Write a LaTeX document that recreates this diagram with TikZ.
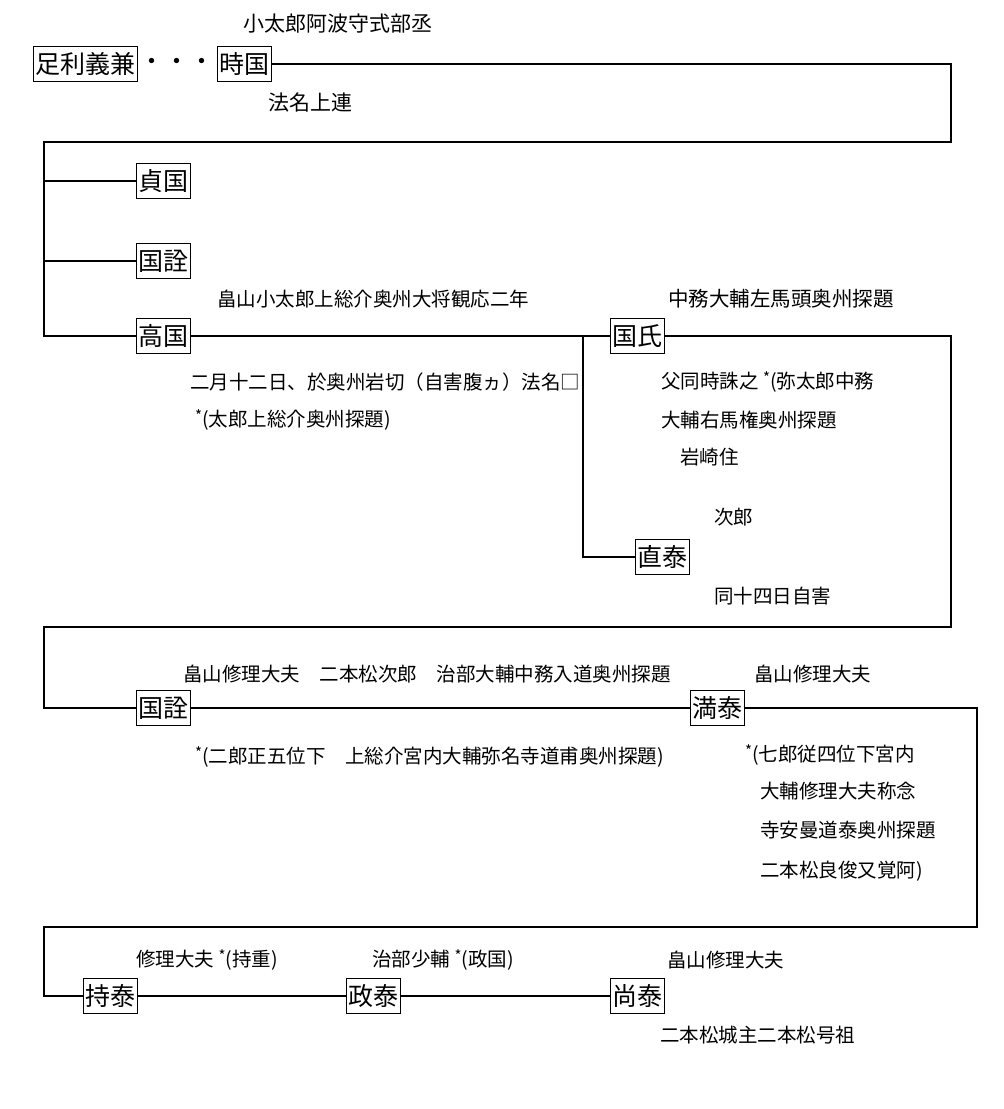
\documentclass[tikz,border=0pt]{standalone}
\usepackage{fontspec}
\setmainfont{Noto Sans CJK JP}
\newcommand{\stx}{\raisebox{0.3em}{\fontsize{15}{15}\selectfont *}}
\begin{document}
\begin{tikzpicture}[x=1pt,y=-1pt,
 box/.style={draw, line width=0.9pt, inner xsep=2pt, inner ysep=0pt, minimum height=35pt, font=\fontsize{25}{25}\selectfont},
 lbl/.style={anchor=west, inner sep=0pt, font=\fontsize{19.5}{20}\selectfont},
 lblb/.style={lbl, font=\fontsize{21}{22}\selectfont},
 conn/.style={line width=2.8pt}]
\fill[white] (0,0) rectangle (1004,1109);
\useasboundingbox (0,0) rectangle (1004,1109);

\node[lblb] (t1) at (243,24) {小太郎阿波守式部丞};
\node[box] (yoshikane) at (85,63.5) {足利義兼};
\node[font=\fontsize{25}{25}\selectfont, inner sep=0pt] (dots) at (177,64) {・・・};
\node[box] (tokikuni) at (244,64) {時国};
\node[lblb] (t2) at (268,103) {法名上連};
\node[box] (sadakuni) at (163,181) {貞国};
\node[box] (kuniakira1) at (163,261) {国詮};
\node[lbl] (t3) at (217,299) {畠山小太郎上総介奥州大将観応二年};
\node[box] (takakuni) at (163,336) {高国};
\node[lbl] (t4) at (190,382) {二月十二日、於奥州岩切（自害腹ヵ）法名□};
\node[lbl] (t5) at (195,420) {\stx(太郎上総介奥州探題)};
\node[lbl, font=\fontsize{20.5}{21}\selectfont] (t6) at (668,299) {中務大輔左馬頭奥州探題};
\node[box] (kuniuji) at (637.5,336) {国氏};
\node[lbl] (t7) at (661,382) {父同時誅之 \stx(弥太郎中務};
\node[lbl] (t8) at (661,420) {大輔右馬権奥州探題};
\node[lbl] (t9) at (680,457) {岩崎住};
\node[lbl] (t10) at (714,517) {次郎};
\node[box] (naoyasu) at (662,557) {直泰};
\node[lbl] (t11) at (714,596) {同十四日自害};
\node[lbl] (t12) at (183,674) {畠山修理大夫　二本松次郎　治部大輔中務入道奥州探題};
\node[box] (kuniakira2) at (163.5,708) {国詮};
\node[lbl] (t13) at (195,757) {\stx(二郎正五位下　上総介宮内大輔弥名寺道甫奥州探題)};
\node[lbl] (t14) at (754,674) {畠山修理大夫};
\node[box] (mitsuyasu) at (717,708) {満泰};
\node[lbl] (t15) at (745,755) {\stx(七郎従四位下宮内};
\node[lbl] (t16) at (760,791) {大輔修理大夫称念};
\node[lbl] (t17) at (760,830) {寺安曼道泰奥州探題};
\node[lbl] (t18) at (760,871) {二本松良俊又覚阿)};
\node[lbl] (t19) at (136,960) {修理大夫 \stx(持重)};
\node[lbl] (t20) at (372,960) {治部少輔 \stx(政国)};
\node[lbl] (t21) at (667,960) {畠山修理大夫};
\node[box] (mochiyasu) at (110.5,996) {持泰};
\node[box] (masayasu) at (373,996) {政泰};
\node[box] (hisayasu) at (637.5,996) {尚泰};
\node[lbl] (t22) at (660,1035) {二本松城主二本松号祖};

\coordinate (c1) at (951,142);
\coordinate (c2) at (44,142);
\coordinate (c3) at (951,627);
\coordinate (c4) at (44,627);
\coordinate (c5) at (977,927);
\coordinate (c6) at (44,927);
\coordinate (j1) at (583,336);

\draw[conn] (tokikuni.east) -| (c1) -- (c2) |- (takakuni.west);
\draw[conn] (c2 |- sadakuni.west) -- (sadakuni.west);
\draw[conn] (c2 |- kuniakira1.west) -- (kuniakira1.west);
\draw[conn] (takakuni.east) -- (kuniuji.west);
\draw[conn] (kuniuji.east) -| (c3) -- (c4) |- (kuniakira2.west);
\draw[conn] (j1) |- (naoyasu.west);
\draw[conn] (kuniakira2.east) -- (mitsuyasu.west);
\draw[conn] (mitsuyasu.east) -| (c5) -- (c6) |- (mochiyasu.west);
\draw[conn] (mochiyasu.east) -- (masayasu.west);
\draw[conn] (masayasu.east) -- (hisayasu.west);
\end{tikzpicture}
\end{document}
